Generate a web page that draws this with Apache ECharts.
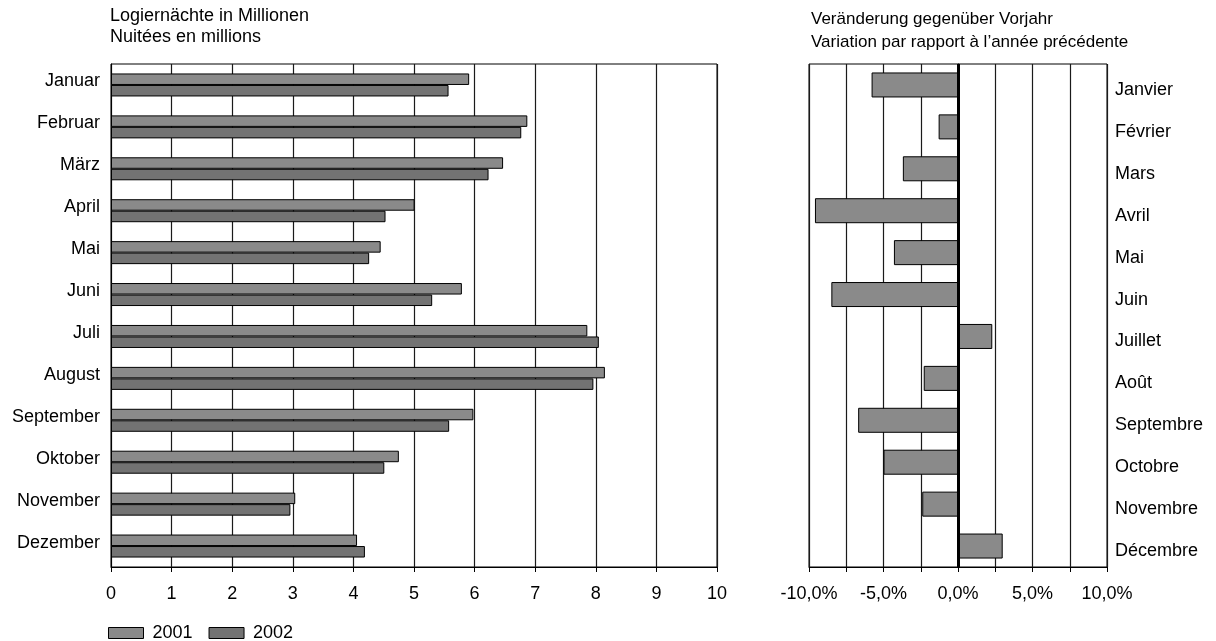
<!DOCTYPE html>
<html>
<head>
<meta charset="utf-8">
<script src="https://cdn.jsdelivr.net/npm/echarts@6/dist/echarts.min.js"></script>
<style>html,body{margin:0;padding:0;background:#fff}#c{width:1216px;height:641px}</style>
</head>
<body>
<div id="c"></div>
<script>
var monthsDE = ['Januar','Februar','März','April','Mai','Juni','Juli','August','September','Oktober','November','Dezember'];
var monthsFR = ['Janvier','Février','Mars','Avril','Mai','Juin','Juillet','Août','Septembre','Octobre','Novembre','Décembre'];
var nights2001 = [5.91, 6.87, 6.47, 5.01, 4.45, 5.79, 7.86, 8.15, 5.98, 4.75, 3.04, 4.06];
var nights2002 = [5.57, 6.77, 6.23, 4.53, 4.26, 5.30, 8.05, 7.96, 5.58, 4.51, 2.96, 4.19];
var changePct = [-5.8, -1.3, -3.7, -9.6, -4.3, -8.5, 2.3, -2.3, -6.7, -5.0, -2.4, 3.0];
var leftTicks = [0,1,2,3,4,5,6,7,8,9,10];

var FONT = 'Liberation Sans, Arial, Helvetica, sans-serif';
var FS = 18;
var chart = echarts.init(document.getElementById('c'));
chart.setOption({
  animation: false,
  textStyle: {fontFamily: FONT, color: '#000'},
  title: [
    {text: 'Logiernächte in Millionen\nNuitées en millions', left: 105, top: 1,
     textStyle: {fontFamily: FONT, fontSize: FS, fontWeight: 'normal', color: '#000', lineHeight: 21}},
    {text: 'Veränderung gegenüber Vorjahr\nVariation par rapport à l’année précédente', left: 806, top: 3,
     textStyle: {fontFamily: FONT, fontSize: 17, fontWeight: 'normal', color: '#000', lineHeight: 23}}
  ],
  legend: {
    left: 103, top: 619, itemWidth: 35, itemHeight: 11, itemGap: 16,
    icon: 'rect',
    data: ['2001','2002'],
    itemStyle: {borderColor: '#000', borderWidth: 1},
    textStyle: {fontFamily: FONT, fontSize: FS, color: '#000', padding: [0,0,0,4]}
  },
  grid: [
    {left: 111, right: 499, top: 64, bottom: 74, show: true, borderColor: '#000', borderWidth: 1, containLabel: false},
    {left: 809, right: 109, top: 64, bottom: 74, show: true, borderColor: '#000', borderWidth: 1, containLabel: false}
  ],
  xAxis: [
    {type: 'value', gridIndex: 0, min: leftTicks[0], max: leftTicks[leftTicks.length-1], interval: 1,
     axisLine: {show: true, lineStyle: {color: '#000'}},
     axisTick: {show: true, length: 5, lineStyle: {color: '#000'}},
     axisLabel: {fontFamily: FONT, fontSize: FS, color: '#000', margin: 18},
     splitLine: {show: true, lineStyle: {color: '#1a1a1a', width: 1.2}}},
    {type: 'value', gridIndex: 1, min: -10, max: 10, interval: 2.5,
     axisLine: {show: true, lineStyle: {color: '#000'}},
     axisTick: {show: true, length: 5, lineStyle: {color: '#000'}},
     axisLabel: {fontFamily: FONT, fontSize: FS, color: '#000', margin: 18,
       formatter: function(v){ return (Math.abs(v % 5) < 1e-9) ? v.toFixed(1).replace('.', ',') + '%' : ''; }},
     splitLine: {show: true, lineStyle: {color: '#1a1a1a', width: 1.2}}}
  ],
  yAxis: [
    {type: 'category', gridIndex: 0, data: monthsDE, inverse: true,
     axisLine: {show: true, lineStyle: {color: '#000'}},
     axisTick: {show: false},
     axisLabel: {fontFamily: FONT, fontSize: FS, color: '#000', margin: 11, verticalAlign: 'bottom', lineHeight: 7}},
    {type: 'category', gridIndex: 1, data: monthsFR, inverse: true, position: 'right',
     axisLine: {show: true, lineStyle: {color: '#000'}},
     axisTick: {show: false},
     axisLabel: {fontFamily: FONT, fontSize: FS, color: '#000', margin: 8, verticalAlign: 'top', lineHeight: 10}}
  ],
  series: [
    {name: '2001', type: 'bar', xAxisIndex: 0, yAxisIndex: 0, data: nights2001,
     barWidth: 11.5, barGap: '0%',
     itemStyle: {color: '#8a8a8a', borderColor: '#000', borderWidth: 1}},
    {name: '2002', type: 'bar', xAxisIndex: 0, yAxisIndex: 0, data: nights2002,
     barWidth: 11.5, barGap: '0%',
     itemStyle: {color: '#737373', borderColor: '#000', borderWidth: 1}},
    {name: 'change', type: 'bar', xAxisIndex: 1, yAxisIndex: 1, data: changePct,
     barWidth: 25,
     itemStyle: {color: '#8a8a8a', borderColor: '#000', borderWidth: 1},
     markLine: {silent: true, symbol: ['none','none'], label: {show: false},
       lineStyle: {color: '#000', width: 3, type: 'solid'},
       data: [{xAxis: 0}]}}
  ]
});
</script>
</body>
</html>
